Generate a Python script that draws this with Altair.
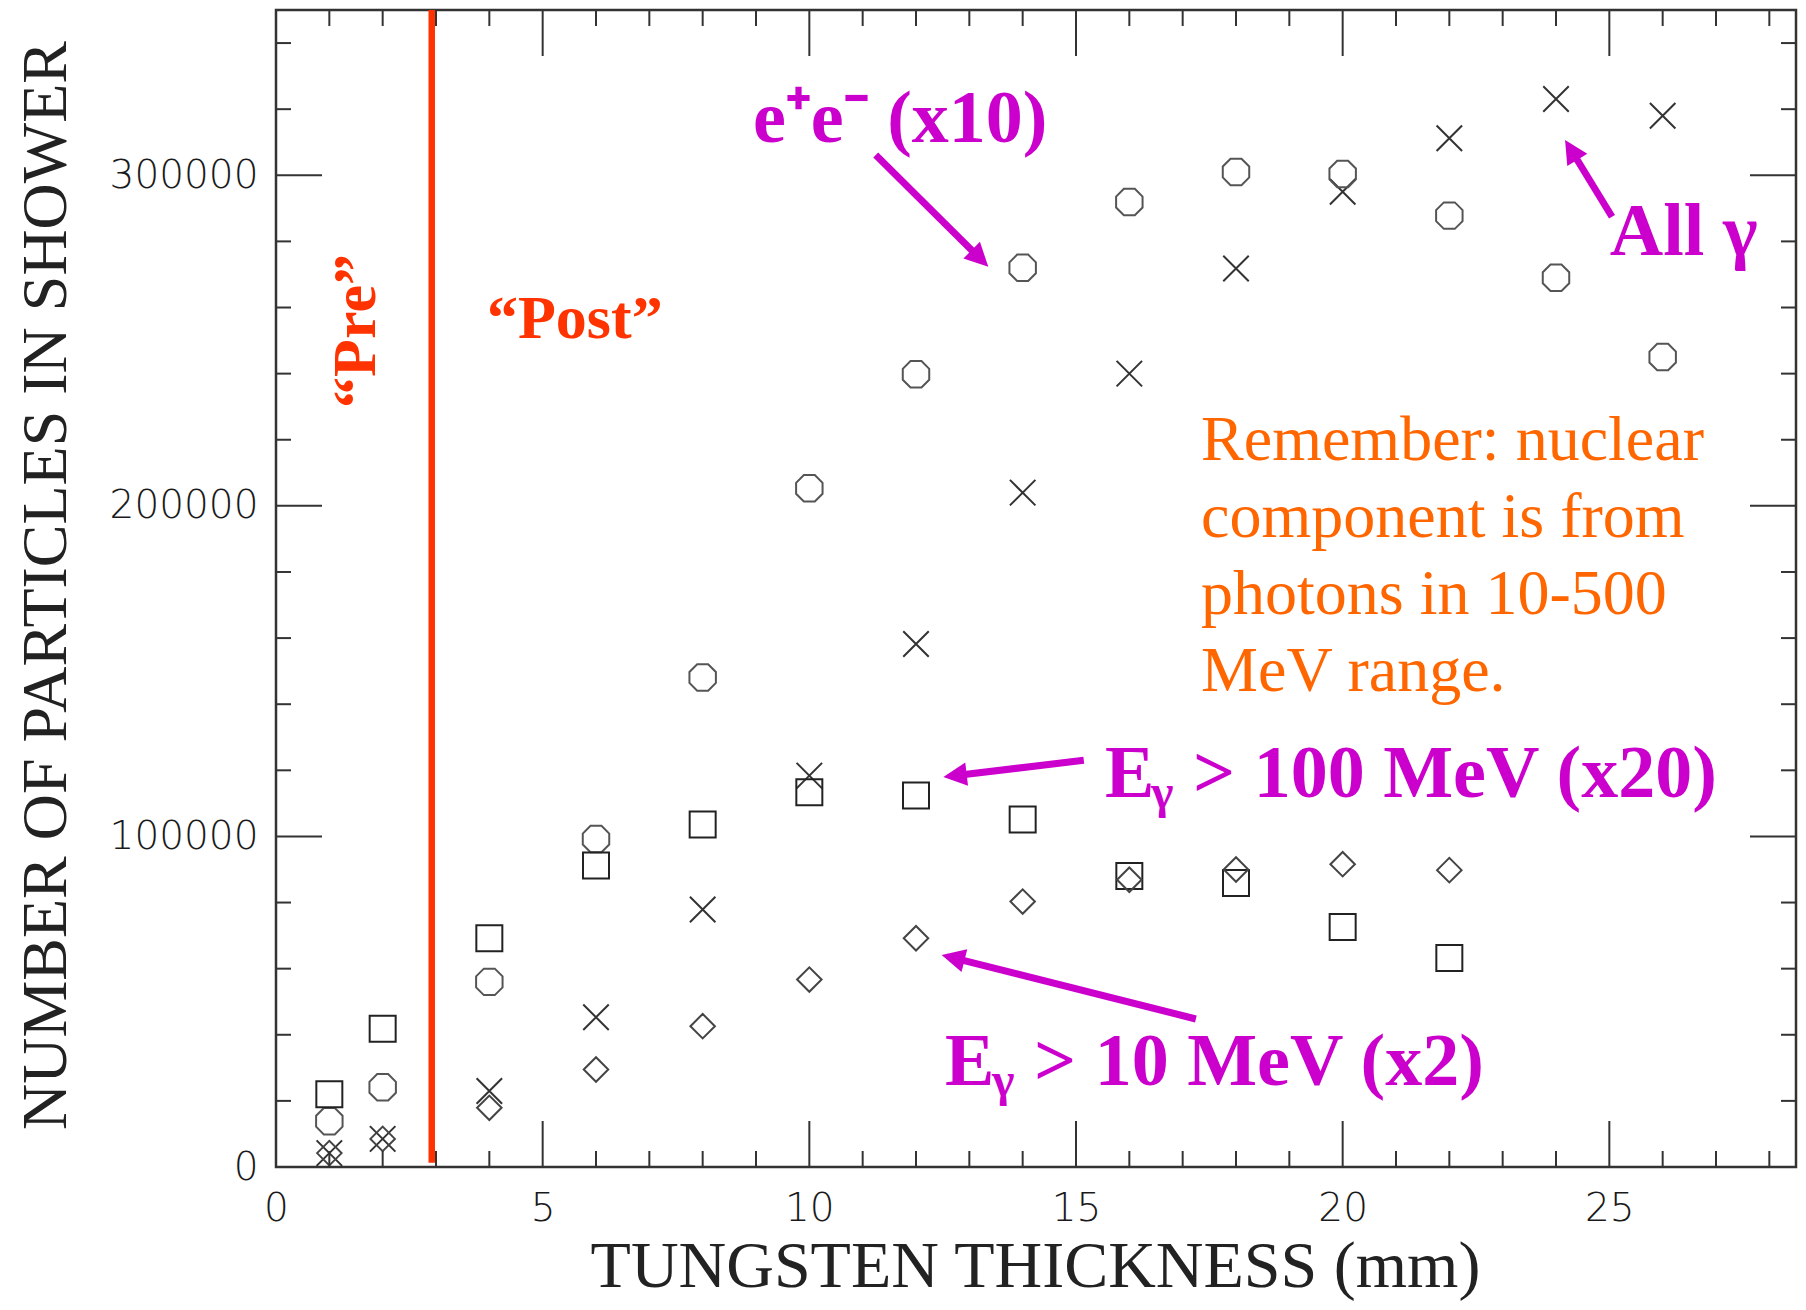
import math
import altair as alt
import pandas as pd

# ---------------- data ----------------
thickness = [1, 2, 4, 6, 8, 10, 12, 14, 16, 18, 20, 22, 24, 26]
all_gamma = [4200, 8500, 23000, 45300, 77900, 118400, 158200, 204000,
             240000, 271800, 295000, 311200, 323100, 318000]
ee_x10 = [13850, 24100, 56000, 99200, 148100, 205300, 239800, 272000,
          291900, 301000, 300400, 287800, 269000, 245000]
thickness_short = [1, 2, 4, 6, 8, 10, 12, 14, 16, 18, 20, 22]
eg100_x20 = [22000, 41800, 69200, 91200, 103600, 113400, 112400, 105100,
             88000, 85900, 72600, 63200]
eg10_x2 = [4200, 8500, 17900, 29500, 42600, 56700, 69200, 80300,
           86900, 90000, 91600, 89800]

x_label_values = [0, 5, 10, 15, 20, 25]
y_label_values = [0, 100000, 200000, 300000]
x_major_ticks = [5, 10, 15, 20, 25]
x_minor_ticks = [k for k in range(1, 29) if k % 5]
y_major_ticks = [100000, 200000, 300000]
y_minor_ticks = [k * 20000 for k in range(1, 18) if k % 5]

pre_post_x = [2.92]
pre_post_y = [1300, 350000]

# annotation anchors (data units)
mag_texts = ["e⁺e⁻ (x10)", "All γ", "E", "> 100 MeV (x20)", "E", "> 10 MeV (x2)"]
mag_x = [8.944, 25.01, 15.545, 17.195, 12.545, 14.213]
mag_y = [310160, 275890, 111930, 111930, 24800, 24800]
sub_texts = ["γ", "γ"]
sub_x = [16.407, 13.426]
sub_y = [108600, 21480]
pre_text, pre_x, pre_y = ["“Pre”"], [1.856], [252900]
post_text, post_x, post_y = ["“Post”"], [5.603], [250780]
note_text = ["Remember: nuclear\ncomponent is from\nphotons in 10-500\nMeV range."]
note_x, note_y = [17.345], [213870]

# arrows: start -> tip
arrow_x0 = [11.245, 25.05, 15.146, 17.247]
arrow_y0 = [306140, 287460, 123030, 44770]
arrow_x1 = [13.356, 24.17, 12.513, 12.481]
arrow_y1 = [272350, 310680, 117980, 64160]

# ---------------- layout ----------------
W, H = 1520, 1157
XMIN, XMAX = 0, 28.5
YMIN, YMAX = 0, 350000
FRAME = "#333333"
MAG = "#CC00CC"
RED = "#FF3300"
ORANGE = "#FF6600"
SERIF = "Liberation Serif"

xs = alt.Scale(domain=[XMIN, XMAX], nice=False, zero=False)
ys = alt.Scale(domain=[YMIN, YMAX], nice=False, zero=False)

PX = W / (XMAX - XMIN)
PY = H / (YMAX - YMIN)

label_style = dict(labelFont="DejaVu Sans", labelFontSize=39, labelFontWeight=200,
                   labelColor="#1a1a1a", labelFlush=False, labelOverlap=False,
                   ticks=False, domain=False, grid=False,
                   titleFont=SERIF, titleFontWeight="normal",
                   titleColor="#222222")

x_axis = alt.Axis(values=x_label_values, labelPadding=22,
                  title="TUNGSTEN THICKNESS (mm)", titleX=759, titleY=119,
                  titleFontSize=66,
                  titleAlign="center", titleBaseline="alphabetic", **label_style)
y_axis = alt.Axis(values=y_label_values, format="d", labelPadding=18,
                  title="NUMBER OF PARTICLES IN SHOWER", titleAngle=270,
                  titleFontSize=64,
                  titleX=-211, titleY=575, titleAlign="center",
                  titleBaseline="alphabetic", **label_style)


def X(field="x"):
    return alt.X(f"{field}:Q", scale=xs, axis=x_axis,
                 title="TUNGSTEN THICKNESS (mm)")


def Y(field="y"):
    return alt.Y(f"{field}:Q", scale=ys, axis=y_axis,
                 title="NUMBER OF PARTICLES IN SHOWER")


X_PATH = "M-1,-1L1,1M-1,1L1,-1"
OCT_PATH = ("M-0.414,-1L0.414,-1L1,-0.414L1,0.414L0.414,1L-0.414,1"
            "L-1,0.414L-1,-0.414Z")
HEAD_PATH = "M0,0L0.5,1L-0.5,1Z"

# ---------------- series ----------------
df_all = pd.DataFrame({"x": thickness, "y": all_gamma})
df_ee = pd.DataFrame({"x": thickness, "y": ee_x10})
df_100 = pd.DataFrame({"x": thickness_short, "y": eg100_x20})
df_10 = pd.DataFrame({"x": thickness_short, "y": eg10_x2})

pts_all = alt.Chart(df_all).mark_point(shape=X_PATH, filled=False, size=650,
                                       color="#333333", strokeWidth=2, opacity=1).encode(
    x=X(), y=Y())
pts_ee = alt.Chart(df_ee).mark_point(shape=OCT_PATH, filled=False, size=700,
                                     color="#555555", strokeWidth=2, opacity=1).encode(
    x=X(), y=Y())
pts_100 = alt.Chart(df_100).mark_point(shape="square", filled=False, size=676,
                                       color="#222222", strokeWidth=2, opacity=1).encode(
    x=X(), y=Y())
pts_10 = alt.Chart(df_10).mark_point(shape="diamond", filled=False, size=600,
                                     color="#444444", strokeWidth=2, opacity=1).encode(
    x=X(), y=Y())

# ---------------- inward ticks on all four sides ----------------
def x_ticks(vals, L):
    d = pd.DataFrame({"x": vals})
    b = alt.Chart(d).mark_rule(color=FRAME, strokeWidth=2).encode(
        x=X(), y=alt.value(H), y2=alt.value(H - L))
    t = alt.Chart(d).mark_rule(color=FRAME, strokeWidth=2).encode(
        x=X(), y=alt.value(0), y2=alt.value(L))
    return [b, t]


def y_ticks(vals, L):
    d = pd.DataFrame({"y": vals})
    l = alt.Chart(d).mark_rule(color=FRAME, strokeWidth=2).encode(
        y=Y(), x=alt.value(0), x2=alt.value(L))
    r = alt.Chart(d).mark_rule(color=FRAME, strokeWidth=2).encode(
        y=Y(), x=alt.value(W), x2=alt.value(W - L))
    return [l, r]


ticks = x_ticks(x_major_ticks, 46) + x_ticks(x_minor_ticks, 16) + \
    y_ticks(y_major_ticks, 46) + y_ticks(y_minor_ticks, 15)

# ---------------- red pre/post line ----------------
red_line = alt.Chart(pd.DataFrame({"x": pre_post_x, "y": [pre_post_y[0]],
                                   "y2": [pre_post_y[1]]})).mark_rule(
    color=RED, strokeWidth=6.5).encode(x=X(), y=Y(), y2="y2:Q")

# ---------------- arrows ----------------
sx, sy, ex, ey, ang = [], [], [], [], []
for x0, y0, x1, y1 in zip(arrow_x0, arrow_y0, arrow_x1, arrow_y1):
    p0x, p0y = x0 * PX, H - y0 * PY
    p1x, p1y = x1 * PX, H - y1 * PY
    dx, dy = p1x - p0x, p1y - p0y
    n = math.hypot(dx, dy)
    ux, uy = dx / n, dy / n
    qx, qy = p1x - ux * 17, p1y - uy * 17
    sx.append(x0)
    sy.append(y0)
    ex.append(qx / PX)
    ey.append((H - qy) / PY)
    ang.append(math.degrees(math.atan2(ux, -uy)) % 360)

df_arrow = pd.DataFrame({"x": sx, "y": sy, "x2": ex, "y2": ey,
                         "tx": arrow_x1, "ty": arrow_y1, "angle": ang})
shafts = alt.Chart(df_arrow).mark_rule(color=MAG, strokeWidth=7).encode(
    x=X(), y=Y(), x2="x2:Q", y2="y2:Q")
heads = alt.Chart(df_arrow).mark_point(shape=HEAD_PATH, filled=True, size=2200,
                                       color=MAG, opacity=1, strokeWidth=0).encode(
    x=X("tx"), y=Y("ty"), angle=alt.Angle("angle:Q", scale=None))

# ---------------- texts ----------------
mag = alt.Chart(pd.DataFrame({"x": mag_x, "y": mag_y, "t": mag_texts})).mark_text(
    align="left", baseline="alphabetic", font=SERIF, fontWeight="bold",
    fontSize=74, color=MAG).encode(x=X(), y=Y(), text="t:N")
sub = alt.Chart(pd.DataFrame({"x": sub_x, "y": sub_y, "t": sub_texts})).mark_text(
    align="left", baseline="alphabetic", font=SERIF, fontWeight="bold",
    fontSize=48, color=MAG).encode(x=X(), y=Y(), text="t:N")
pre = alt.Chart(pd.DataFrame({"x": pre_x, "y": pre_y, "t": pre_text})).mark_text(
    align="center", baseline="alphabetic", font=SERIF, fontWeight="bold",
    fontSize=62, color=RED, angle=270).encode(x=X(), y=Y(), text="t:N")
post = alt.Chart(pd.DataFrame({"x": post_x, "y": post_y, "t": post_text})).mark_text(
    align="center", baseline="alphabetic", font=SERIF, fontWeight="bold",
    fontSize=62, color=RED).encode(x=X(), y=Y(), text="t:N")
note = alt.Chart(pd.DataFrame({"x": note_x, "y": note_y, "t": note_text})).mark_text(
    align="left", baseline="alphabetic", font=SERIF, fontWeight="normal",
    fontSize=64, color=ORANGE, lineBreak="\n", lineHeight=77).encode(
    x=X(), y=Y(), text="t:N")

chart = alt.layer(
    pts_all, pts_ee, pts_100, pts_10, *ticks, red_line, shafts, heads,
    mag, sub, pre, post, note
).properties(
    width=W, height=H,
    autosize=alt.AutoSizeParams(type="none"),
    padding={"left": 268, "top": 2, "right": 2, "bottom": 134},
    background="white",
).configure_view(stroke=FRAME, strokeWidth=2.5)

chart.save("out.html", embed_options={"renderer": "svg", "actions": False})
